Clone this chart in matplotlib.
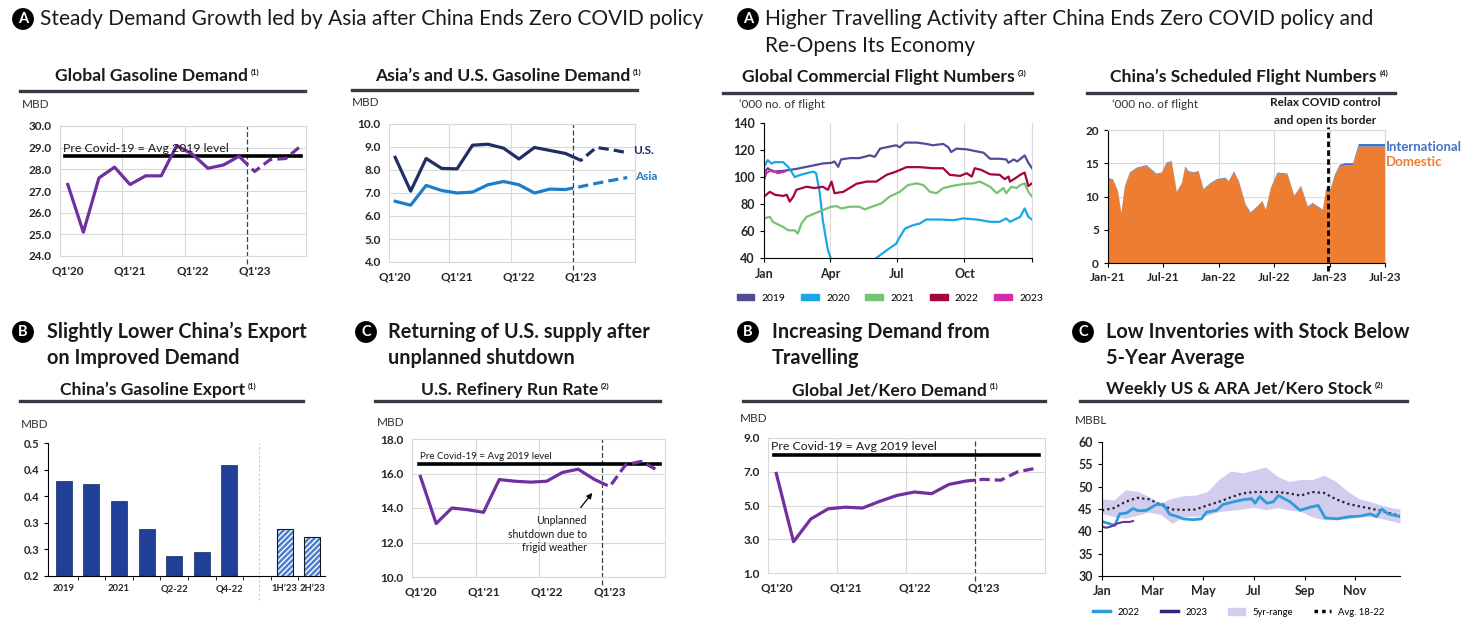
import numpy as np
import matplotlib.pyplot as plt
from matplotlib.lines import Line2D
from matplotlib.patches import Patch, Rectangle

plt.rcParams['font.family'] = ['Lato', 'DejaVu Sans']

# ---------------- data ----------------
quarters = ["Q1'20", "Q2'20", "Q3'20", "Q4'20", "Q1'21", "Q2'21", "Q3'21", "Q4'21",
            "Q1'22", "Q2'22", "Q3'22", "Q4'22", "Q1'23", "Q2'23", "Q3'23", "Q4'23"]

gas_global = [27.3, 25.1, 27.6, 28.1, 27.3, 27.7, 27.7, 29.1,
              28.7, 28.05, 28.2, 28.6, 27.9, 28.45, 28.5, 29.1]
gas_global_pre_covid = 28.6

gas_us = [8.55, 7.08, 8.5, 8.07, 8.05, 9.08, 9.12, 8.95,
          8.48, 8.98, 8.85, 8.72, 8.42, 8.98, 8.88, 8.75]
gas_asia = [6.64, 6.47, 7.33, 7.11, 7.0, 7.04, 7.36, 7.5,
            7.36, 7.0, 7.17, 7.15, 7.28, 7.42, 7.55, 7.67]

refinery = [15.83, 13.1, 14.0, 13.9, 13.75, 15.65, 15.55, 15.5,
            15.55, 16.06, 16.25, 15.67, 15.24, 16.5, 16.7, 16.2]
refinery_pre_covid = 16.55

jet = [6.9, 2.85, 4.2, 4.8, 4.9, 4.85, 5.25, 5.6,
       5.8, 5.7, 6.25, 6.45, 6.55, 6.5, 7.0, 7.2]
jet_pre_covid = 8.0

# global commercial flights ('000), day of year
fl19_day = [0, 5, 12, 26, 44, 62, 80, 92, 96, 101, 105, 117, 130, 144, 151, 158, 171, 180, 185, 192,
            208, 221, 230, 244, 251, 255, 262, 276, 285, 299, 308, 321, 330, 333, 340, 345, 355, 360, 365]
fl19 = [103, 106.5, 104, 104.5, 106, 108, 110, 110.5, 111.5, 107.5, 113, 114, 114, 116, 115, 121, 122.5, 123.5, 122, 125.5,
        125.5, 124.5, 123.5, 124.5, 122, 118.5, 121, 120.5, 119.5, 118, 113.5, 113.5, 113, 110.5, 113, 111.5, 116, 110.5, 106.5]
fl20_day = [0, 5, 10, 15, 26, 33, 42, 49, 58, 67, 71, 76, 80, 87, 92, 110, 130, 148, 153, 167,
            180, 185, 192, 203, 212, 221, 240, 258, 271, 290, 308, 321, 330, 335, 349, 355, 360, 365]
fl20 = [107.5, 112.5, 110, 111, 111, 107.5, 100, 101.5, 102.8, 104, 102.8, 88, 68, 46, 38, 25, 27, 35, 40, 45.7,
        50.6, 55.6, 61.8, 64.3, 65.5, 68.5, 68.5, 68, 69.3, 68.5, 66.8, 66.8, 69.3, 66.8, 70.5, 76.7, 70.5, 68.5]
fl21_day = [0, 8, 12, 26, 33, 42, 46, 51, 58, 69, 80, 92, 99, 105, 117, 130, 137, 149, 160, 171,
            185, 196, 208, 217, 226, 235, 244, 262, 276, 285, 294, 308, 317, 326, 330, 337, 344, 349, 355, 360, 365]
fl21 = [69.3, 70.5, 66.8, 63, 60.5, 60.5, 58, 65.5, 70.5, 73, 75.5, 78, 78.4, 76.7, 78, 78, 76, 78.4, 80.5, 85.5,
        89, 94, 95.3, 94, 89, 88, 91.8, 94, 95, 95.3, 96.6, 92.8, 88, 91.8, 88, 92.8, 91.8, 94, 95.3, 89, 85.5]
fl22_day = [0, 8, 15, 26, 31, 35, 40, 44, 58, 69, 80, 87, 92, 96, 108, 126, 140, 153, 167, 180,
            194, 212, 230, 244, 253, 267, 276, 283, 287, 296, 308, 321, 328, 333, 335, 342, 349, 355, 360, 365]
fl22 = [85.5, 89, 86.8, 86, 86.8, 81.8, 85.5, 90.5, 92.8, 91.8, 92.8, 90.5, 96.6, 88, 89, 95, 96.6, 96.6, 101.6, 104,
        107.3, 107.3, 106.5, 106.5, 101.6, 100.8, 102.8, 100.3, 106.5, 105.2, 102, 101.6, 98.4, 100.3, 96.6, 99, 101.6, 103.3, 93.3, 95.3]
fl23_day = [0, 3, 10, 19, 28]
fl23 = [97.8, 102.8, 105.2, 102.8, 104]

# China scheduled flights ('000), months since Jan-21
cn_month = [0, 0.55, 1.09, 1.45, 1.82, 2.36, 3.09, 4.18, 5.27, 5.82,
            6.36, 6.91, 7.45, 8.0, 8.36, 8.73, 9.27, 9.82, 10.36, 11.09,
            11.82, 12.73, 13.09, 13.64, 14.18, 14.91, 15.45, 16.18, 16.73, 17.09,
            17.64, 18.36, 19.45, 20.18, 20.91, 21.64, 22.18, 22.73, 23.27, 23.64,
            24.0, 24.55, 25.09, 25.64, 26.55, 27.16, 30]
cn_domestic = [12.7, 12.45, 10.7, 7.4, 11.4, 13.5, 14.2, 14.6, 13.3, 13.5,
               15, 15.2, 10.6, 11.9, 14.4, 13.7, 13.5, 13.7, 11, 11.9,
               12.5, 12.7, 12.2, 13.7, 12.2, 8.7, 7.5, 8.4, 9.2, 7.9,
               11.2, 13.5, 13.3, 10, 11.5, 8.4, 8.9, 8.4, 7.9, 11.2,
               10.5, 13, 14.5, 14.7, 14.7, 17.5, 17.5]
cn_international = [0.12] * 40 + [0.15, 0.2, 0.25, 0.3, 0.3, 0.4, 0.4]

# China gasoline export (MBD)
export_cats = ['2019', '2020', '2021', 'Q1-22', 'Q2-22', 'Q3-22', 'Q4-22', '', '1H\u201923', '2H\u201923']
export_vals = [0.415, 0.407, 0.37, 0.306, 0.245, 0.255, 0.45, np.nan, 0.305, 0.289]
export_forecast = [False] * 8 + [True, True]
export_ticklabels = ['2019', '', '2021', '', 'Q2-22', '', 'Q4-22', '', '1H\u201923', '2H\u201923']

# weekly US & ARA jet/kero stock (MBBL), week of year
rng_week = [0, 2, 4, 6, 8, 10, 12, 14, 16, 18, 20, 22, 24, 26, 28, 30, 32, 34, 36, 38, 40, 42, 44, 46, 48, 50, 51]
rng_high = [47.3, 47.0, 49.3, 49.0, 47.8, 46.4, 47.4, 48.0, 48.1, 48.9, 51.6, 53.5, 53.1, 53.7,
            54.4, 52.3, 51.2, 51.6, 51.6, 52.6, 51.2, 49.0, 47.3, 46.6, 45.8, 45.2, 45.0]
rng_low = [44.0, 43.3, 42.9, 43.6, 44.3, 43.8, 41.8, 43.3, 43.4, 43.6, 44.4, 44.7, 45.0, 45.4,
           44.8, 45.3, 44.8, 44.5, 43.2, 42.6, 42.6, 42.8, 43.3, 43.3, 42.8, 42.2, 41.8]
avg_18_22 = [44.7, 45.2, 46.6, 47.5, 47.2, 46.0, 44.9, 44.8, 44.9, 45.8, 46.6, 47.6, 48.5, 48.8,
             48.8, 48.8, 48.5, 48.0, 48.8, 48.6, 47.2, 46.2, 45.6, 45.1, 44.5, 43.8, 43.5]
st22_week = [0, 1.3, 2.2, 3.0, 4.2, 5.3, 6.2, 7.6, 9.3, 10.5, 11.6, 12.7, 13.9, 15.6, 17.0, 17.9, 19.6,
             20.7, 22.5, 24.2, 25.6, 26.2, 27.0, 28.2, 29.3, 30.2, 32.2, 33.9, 35.6, 37.0, 38.2, 40.2,
             42.5, 44.2, 45.9, 47.0, 47.9, 49.0, 51.0]
st22 = [42.2, 41.7, 41.3, 43.9, 44.1, 45.1, 44.6, 44.7, 46.0, 46.0, 43.8, 43.4, 42.8, 42.6, 42.8, 44.3, 44.7,
        46.0, 46.6, 47.1, 47.3, 46.3, 47.8, 46.3, 46.6, 48.0, 46.6, 44.7, 45.4, 45.8, 43.0, 42.8,
        43.3, 43.4, 43.9, 43.3, 45.0, 43.9, 43.3]
st23_week = [0, 0.7, 1.6, 2.5, 3.6, 4.7, 5.3]
st23 = [41.1, 40.8, 41.1, 41.7, 42.1, 42.1, 42.3]

# ---------------- colours ----------------
PURPLE = '#7030A0'
NAVY = '#1F2F63'
BLUE = '#1F7DC8'
GRID = '#D9D9D9'
TXT = '#1A1A1A'

W, H = 1479, 618
fig = plt.figure(figsize=(W / 100, H / 100), dpi=100)


def axes_at(x0, y0, x1, y1):
    return fig.add_axes([x0 / W, 1 - y1 / H, (x1 - x0) / W, (y1 - y0) / H])


def put(x, y, s, **kw):
    kw.setdefault('va', 'center')
    kw.setdefault('color', TXT)
    return fig.text(x / W, 1 - y / H, s, **kw)


def rule(x0, x1, y):
    fig.add_artist(Line2D([x0 / W, x1 / W], [1 - y / H] * 2, color='#363C46', lw=2.4))


def badge(x, y, letter):
    fig.text(x / W, 1 - y / H, letter, ha='center', va='center', color='white',
             fontsize=10.5, fontweight='bold',
             bbox=dict(boxstyle='circle,pad=0.22', fc='black', ec='black'))


def panel_title(x_end, y, title, note):
    put(x_end, y, title, ha='right', fontsize=12.6, fontweight='bold')
    put(x_end + 3, y - 4, note, ha='left', fontsize=5.5, fontweight='bold')


def bold_ticks(ax, size=8):
    for lab in ax.get_xticklabels() + ax.get_yticklabels():
        lab.set_fontweight('bold')
        lab.set_fontsize(size)
        lab.set_color('#262626')


def quarter_axes(ax, ylo, yhi, step, xlo, xhi):
    ax.set_xlim(xlo, xhi)
    ax.set_ylim(ylo, yhi)
    ax.set_yticks(np.arange(ylo, yhi + step / 2, step))
    ax.yaxis.set_major_formatter(plt.FormatStrFormatter('%.1f'))
    ax.set_xticks([0, 4, 8, 12])
    ax.set_xticklabels([quarters[i] for i in (0, 4, 8, 12)])
    ax.set_xticks([3.5, 7.5], minor=True)
    ax.grid(True, axis='y', color=GRID, lw=0.8)
    ax.grid(True, axis='x', which='minor', color=GRID, lw=0.8)
    ax.tick_params(which='both', length=0)
    ax.tick_params(axis='y', pad=6)
    ax.tick_params(axis='x', pad=7)
    for s in ax.spines.values():
        s.set_color(GRID)
        s.set_linewidth(0.8)
    ax.set_axisbelow(True)
    bold_ticks(ax, 8.5)
    ax.axvline(11.5, ymin=-0.06, ymax=1.0, color='#404040', lw=0.9, ls=(0, (4, 2)), clip_on=False)


def split_line(ax, values, color, lw=2.3):
    x = np.arange(len(values))
    y0, y1 = ax.get_ylim()
    solid, = ax.plot(x, values, color=color, lw=lw, solid_joinstyle='round')
    solid.set_clip_path(Rectangle((-5, y0 - 5), 16.5, (y1 - y0) + 10, transform=ax.transData))
    dash, = ax.plot(x, values, color=color, lw=lw, ls=(0, (3.2, 1.6)))
    dash.set_clip_path(Rectangle((11.5, y0 - 5), 10, (y1 - y0) + 10, transform=ax.transData))


# ---------------- section headers ----------------
HEAD = 15
SUB = 14.3
badge(23, 19, 'A')
put(40, 19, 'Steady Demand Growth led by Asia after China Ends Zero COVID policy', ha='left', fontsize=HEAD)
badge(748, 19, 'A')
put(765, 19, 'Higher Travelling Activity after China Ends Zero COVID policy and', ha='left', fontsize=HEAD)
put(765, 46, 'Re-Opens Its Economy', ha='left', fontsize=HEAD)

badge(23, 332, 'B')
put(47, 332, 'Slightly Lower China\u2019s Export', ha='left', fontsize=SUB, fontweight='bold')
put(47, 358, 'on Improved Demand', ha='left', fontsize=SUB, fontweight='bold')
badge(366, 332, 'C')
put(388, 332, 'Returning of U.S. supply after', ha='left', fontsize=SUB, fontweight='bold')
put(388, 358, 'unplanned shutdown', ha='left', fontsize=SUB, fontweight='bold')
badge(748, 332, 'B')
put(772, 332, 'Increasing Demand from', ha='left', fontsize=SUB, fontweight='bold')
put(772, 358, 'Travelling', ha='left', fontsize=SUB, fontweight='bold')
badge(1083, 332, 'C')
put(1106, 332, 'Low Inventories with Stock Below', ha='left', fontsize=SUB, fontweight='bold')
put(1106, 358, '5-Year Average', ha='left', fontsize=SUB, fontweight='bold')

# ---------------- panel titles & rules ----------------
panel_title(248, 76, 'Global Gasoline Demand', '(1)')
rule(20, 305, 91)
panel_title(630, 76, 'Asia\u2019s and U.S. Gasoline Demand', '(1)')
rule(352, 637, 90)
panel_title(1015, 77, 'Global Commercial Flight Numbers', '(3)')
rule(723, 1032, 93)
panel_title(1377, 77, 'China\u2019s Scheduled Flight Numbers', '(4)')
rule(1087, 1395, 93)
panel_title(245, 390, 'China\u2019s Gasoline Export', '(1)')
rule(20, 303, 401)
panel_title(598, 390, 'U.S. Refinery Run Rate', '(2)')
rule(375, 660, 401)
panel_title(987, 390, 'Global Jet/Kero Demand', '(1)')
rule(743, 1045, 401)
panel_title(1372, 389, 'Weekly US & ARA Jet/Kero Stock', '(2)')
rule(1080, 1407, 401)

for (ux, uy, u) in [(22, 104, 'MBD'), (352, 103, 'MBD'), (739, 105, '\u2018000 no. of flight'),
                    (1112, 105, '\u2018000 no. of flight'), (21, 425, 'MBD'), (377, 422, 'MBD'),
                    (740, 418, 'MBD'), (1075, 420, 'MBBL')]:
    put(ux, uy, u, ha='left', fontsize=8.5, color='#333333')

# ---------------- 1: global gasoline demand ----------------
ax = axes_at(60, 126, 306, 256)
quarter_axes(ax, 24, 30, 1, -0.5, 15.3)
ax.plot([-0.15, 15.0], [gas_global_pre_covid] * 2, color='black', lw=2.6)
ax.text(-0.3, gas_global_pre_covid + 0.1, 'Pre Covid-19 = Avg 2019 level', fontsize=8.8,
        va='bottom', ha='left', color=TXT)
split_line(ax, gas_global, PURPLE)

# ---------------- 2: Asia and US gasoline demand ----------------
ax = axes_at(389, 124, 635, 262)
quarter_axes(ax, 4, 10, 1, -0.4, 15.5)
split_line(ax, gas_us, NAVY)
split_line(ax, gas_asia, BLUE)
put(633, 150, 'U.S.', ha='left', fontsize=8.5, fontweight='bold', color=NAVY)
put(635, 177, 'Asia', ha='left', fontsize=8.5, fontweight='bold', color=BLUE)

# ---------------- 3: global commercial flights ----------------
ax = axes_at(764, 123, 1032, 258)
fl_colors = ['#4F4D95', '#1AA7E6', '#77C274', '#A3063B', '#D42BA6']
for d, v, c in [(fl19_day, fl19, fl_colors[0]), (fl20_day, fl20, fl_colors[1]),
                (fl21_day, fl21, fl_colors[2]), (fl22_day, fl22, fl_colors[3]),
                (fl23_day, fl23, fl_colors[4])]:
    ax.plot(d, v, color=c, lw=1.6)
ax.set_xlim(0, 365)
ax.set_ylim(40, 140)
ax.set_yticks(range(40, 141, 20))
ax.set_xticks([0, 90, 181, 273, 365])
ax.set_xticklabels(['Jan', 'Apr', 'Jul', 'Oct', ''])
ax.grid(True, axis='x', color=GRID, lw=0.8)
ax.spines['top'].set_visible(False)
ax.spines['right'].set_color(GRID)
ax.tick_params(axis='both', length=3, direction='out', width=0.8)
ax.tick_params(axis='x', pad=4)
bold_ticks(ax, 9)
ax.legend(handles=[Patch(color=c) for c in fl_colors], labels=['2019', '2020', '2021', '2022', '2023'],
          loc='center', bbox_to_anchor=(0.47, -0.30), ncol=5, frameon=False, fontsize=7.5,
          handlelength=1.7, handleheight=0.55, columnspacing=1.5, handletextpad=0.7)

# ---------------- 4: China scheduled flights ----------------
ax = axes_at(1108, 130, 1385, 263)
ax.stackplot(cn_month, cn_domestic, cn_international, colors=['#ED7D31', '#4472C4'], lw=0)
ax.set_xlim(0, 30)
ax.set_ylim(0, 20)
ax.set_yticks(range(0, 21, 5))
ax.set_xticks([0, 6, 12, 18, 24, 30])
ax.set_xticklabels(['Jan-21', 'Jul-21', 'Jan-22', 'Jul-22', 'Jan-23', 'Jul-23'])
ax.grid(True, color=GRID, lw=0.8)
ax.set_axisbelow(True)
ax.spines['top'].set_color(GRID)
ax.spines['right'].set_color(GRID)
ax.tick_params(axis='both', length=3, direction='out', width=0.8)
bold_ticks(ax, 8.5)
ax.axvline(23.8, ymin=-0.06, ymax=1.02, color='black', lw=2, ls=(0, (2, 1.2)), clip_on=False)
put(1325, 103, 'Relax COVID control', ha='center', fontsize=8.5, fontweight='bold')
put(1325, 120, 'and open its border', ha='center', fontsize=8.5, fontweight='bold')
put(1386, 147, 'International', ha='left', fontsize=9.5, fontweight='bold', color='#4472C4')
put(1386, 162, 'Domestic', ha='left', fontsize=9.5, fontweight='bold', color='#ED7D31')

# ---------------- 5: China gasoline export ----------------
ax = axes_at(48, 443, 325, 576)
xe = np.arange(len(export_cats))
for i, (v, fc) in enumerate(zip(export_vals, export_forecast)):
    if np.isnan(v):
        continue
    if fc:
        ax.bar(i, v, width=0.58, color='#4D7FD0', edgecolor='white', hatch='//////', lw=0)
        ax.bar(i, v, width=0.58, fill=False, edgecolor='#1A1A1A', lw=0.8)
    else:
        ax.bar(i, v, width=0.58, color='#1F3F99', edgecolor='#14285F', lw=0.5)
ax.set_xlim(-0.57, 9.46)
ax.set_ylim(0.2, 0.5)
ax.set_yticks(np.linspace(0.2, 0.5, 6))
ax.yaxis.set_major_formatter(plt.FormatStrFormatter('%.1f'))
ax.set_xticks(xe)
ax.set_xticklabels(export_ticklabels)
ax.set_xticks(xe[:-1] + 0.5, minor=True)
ax.tick_params(axis='x', which='major', length=0, pad=6)
ax.tick_params(axis='x', which='minor', length=3, direction='out')
ax.tick_params(axis='y', length=3, direction='out')
ax.spines['top'].set_visible(False)
ax.spines['right'].set_visible(False)
ax.axvline(7.08, ymin=-0.18, ymax=1.0, color='#C8C8C8', lw=0.8, ls=(0, (2, 2)), clip_on=False)
bold_ticks(ax, 8)
for lab in ax.get_xticklabels():
    lab.set_fontsize(6.8)

# ---------------- 6: US refinery run rate ----------------
ax = axes_at(412, 439, 665, 577)
quarter_axes(ax, 10, 18, 2, -0.53, 15.5)
ax.plot([-0.1, 15.2], [refinery_pre_covid] * 2, color='black', lw=2.6)
ax.text(0.0, refinery_pre_covid + 0.15, 'Pre Covid-19 = Avg 2019 level', fontsize=7,
        va='bottom', ha='left', color=TXT)
split_line(ax, refinery, PURPLE)
ax.annotate('', xy=(11.0, 15.0), xytext=(10.05, 13.9),
            arrowprops=dict(arrowstyle='-|>', color='black', lw=0.9, mutation_scale=8))
ax.text(10.55, 13.6, 'Unplanned\nshutdown due to\nfrigid weather', ha='right', va='top',
        fontsize=7.6, linespacing=1.3, color=TXT)

# ---------------- 7: global jet/kero demand ----------------
ax = axes_at(768, 438, 1045, 573)
quarter_axes(ax, 1, 9, 2, -0.48, 15.57)
ax.plot([-0.15, 15.2], [jet_pre_covid] * 2, color='black', lw=2.6)
ax.text(-0.3, jet_pre_covid + 0.15, 'Pre Covid-19 = Avg 2019 level', fontsize=8.8,
        va='bottom', ha='left', color=TXT)
split_line(ax, jet, PURPLE)

# ---------------- 8: weekly jet/kero stock ----------------
ax = axes_at(1102, 442, 1400, 576)
ax.fill_between(rng_week, rng_low, rng_high, color='#D2CCEF', lw=0)
ax.plot(rng_week, avg_18_22, color='#222222', lw=1.6, ls=(0, (1, 1.4)))
ax.plot(st22_week, st22, color='#2E9BDA', lw=2)
ax.plot(st23_week, st23, color=PURPLE, lw=1.5)
ax.set_xlim(0, 51)
ax.set_ylim(30, 60)
ax.set_yticks(range(30, 61, 5))
ax.set_xticks([0, 8.67, 17.33, 26, 34.67, 43.33])
ax.set_xticklabels(['Jan', 'Mar', 'May', 'Jul', 'Sep', 'Nov'])
ax.spines['top'].set_visible(False)
ax.spines['right'].set_visible(False)
ax.tick_params(axis='both', length=3, direction='out', width=0.8)
bold_ticks(ax, 9)
ax.legend(handles=[Line2D([], [], color='#2E9BDA', lw=2.5), Line2D([], [], color='#2B2B7A', lw=2.5),
                   Patch(color='#D2CCEF'), Line2D([], [], color='black', lw=2.5, ls=(0, (1, 1.2)))],
          labels=['2022', '2023', '5yr-range', 'Avg. 18-22'],
          loc='center', bbox_to_anchor=(0.46, -0.27), ncol=4, frameon=False, fontsize=6.8,
          handlelength=1.8, columnspacing=2.2, handletextpad=0.8)

fig.savefig('out.png', dpi=100, facecolor='white')
